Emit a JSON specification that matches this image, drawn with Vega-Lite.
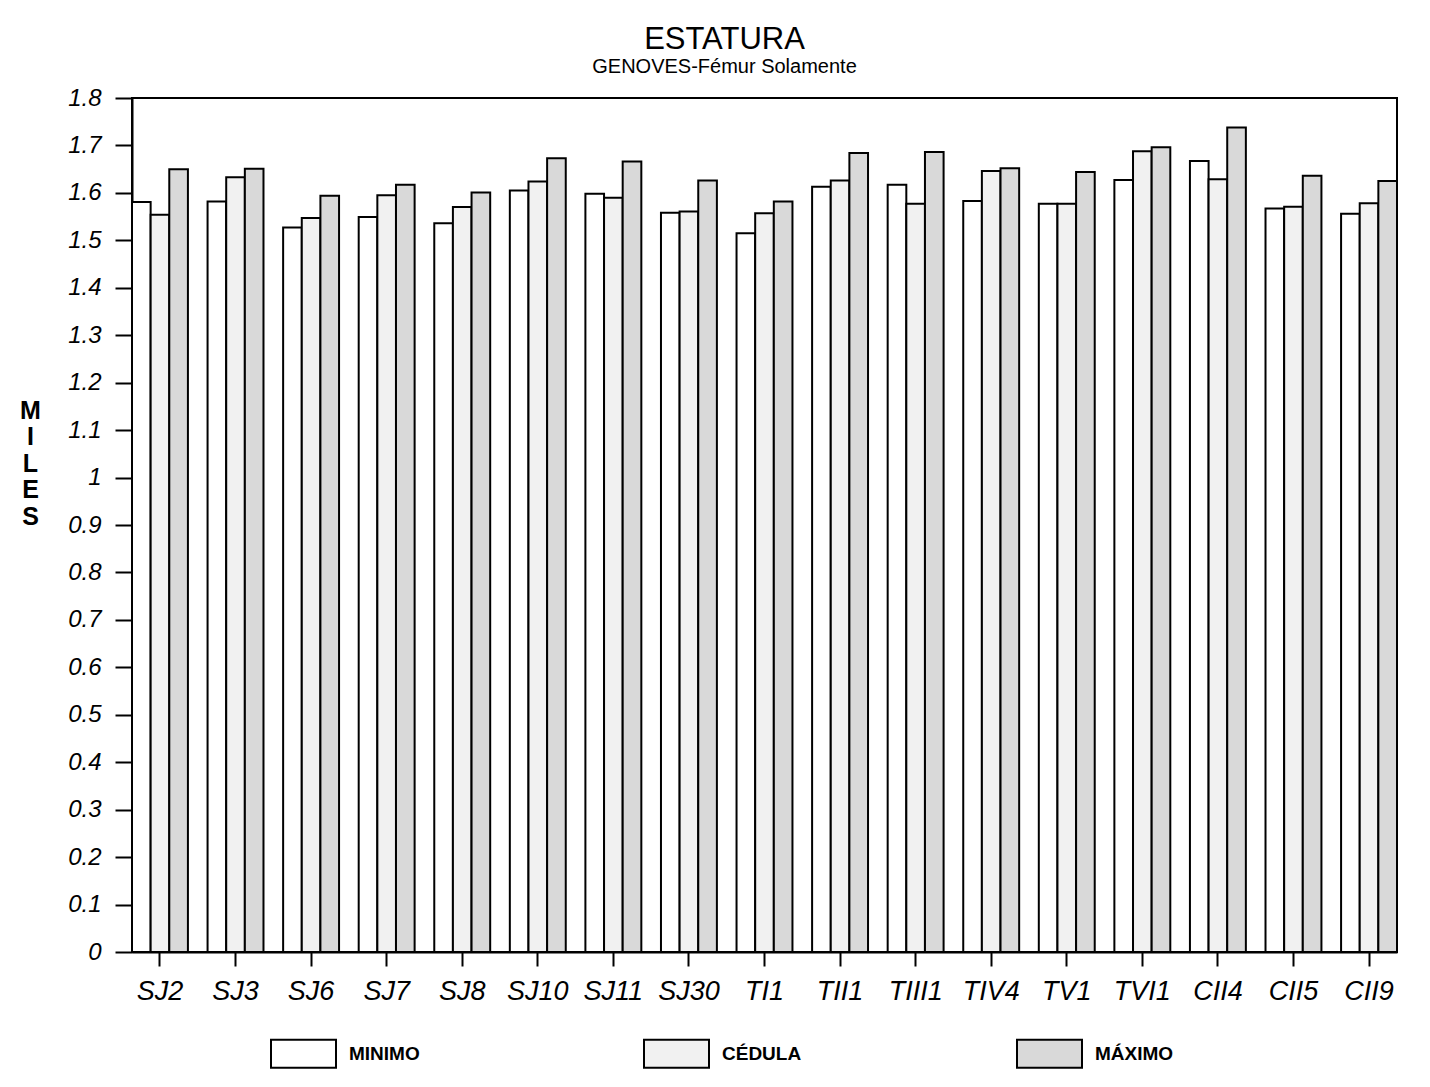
{
  "$schema": "https://vega.github.io/schema/vega-lite/v6.json",
  "autosize": "none",
  "padding": {"left": 132, "top": 98, "right": 33, "bottom": 135},
  "width": 1265,
  "height": 854,
  "background": "white",
  "title": {
    "text": "ESTATURA",
    "subtitle": "GENOVES-Fémur Solamente",
    "font": "Liberation Sans",
    "fontSize": 31,
    "fontWeight": "normal",
    "color": "black",
    "subtitleFont": "Liberation Sans",
    "subtitleFontSize": 20,
    "subtitleColor": "black",
    "subtitlePadding": 1,
    "anchor": "middle",
    "dx": -40,
    "offset": 8
  },
  "data": {
    "values": [
      {"cat": "SJ2", "serie": "MINIMO", "valor": 1.581},
      {"cat": "SJ2", "serie": "CÉDULA", "valor": 1.554},
      {"cat": "SJ2", "serie": "MÁXIMO", "valor": 1.650},
      {"cat": "SJ3", "serie": "MINIMO", "valor": 1.582},
      {"cat": "SJ3", "serie": "CÉDULA", "valor": 1.633},
      {"cat": "SJ3", "serie": "MÁXIMO", "valor": 1.651},
      {"cat": "SJ6", "serie": "MINIMO", "valor": 1.527},
      {"cat": "SJ6", "serie": "CÉDULA", "valor": 1.547},
      {"cat": "SJ6", "serie": "MÁXIMO", "valor": 1.594},
      {"cat": "SJ7", "serie": "MINIMO", "valor": 1.549},
      {"cat": "SJ7", "serie": "CÉDULA", "valor": 1.595},
      {"cat": "SJ7", "serie": "MÁXIMO", "valor": 1.617},
      {"cat": "SJ8", "serie": "MINIMO", "valor": 1.536},
      {"cat": "SJ8", "serie": "CÉDULA", "valor": 1.570},
      {"cat": "SJ8", "serie": "MÁXIMO", "valor": 1.601},
      {"cat": "SJ10", "serie": "MINIMO", "valor": 1.605},
      {"cat": "SJ10", "serie": "CÉDULA", "valor": 1.624},
      {"cat": "SJ10", "serie": "MÁXIMO", "valor": 1.673},
      {"cat": "SJ11", "serie": "MINIMO", "valor": 1.598},
      {"cat": "SJ11", "serie": "CÉDULA", "valor": 1.590},
      {"cat": "SJ11", "serie": "MÁXIMO", "valor": 1.666},
      {"cat": "SJ30", "serie": "MINIMO", "valor": 1.558},
      {"cat": "SJ30", "serie": "CÉDULA", "valor": 1.561},
      {"cat": "SJ30", "serie": "MÁXIMO", "valor": 1.626},
      {"cat": "TI1", "serie": "MINIMO", "valor": 1.515},
      {"cat": "TI1", "serie": "CÉDULA", "valor": 1.557},
      {"cat": "TI1", "serie": "MÁXIMO", "valor": 1.582},
      {"cat": "TII1", "serie": "MINIMO", "valor": 1.613},
      {"cat": "TII1", "serie": "CÉDULA", "valor": 1.626},
      {"cat": "TII1", "serie": "MÁXIMO", "valor": 1.684},
      {"cat": "TIII1", "serie": "MINIMO", "valor": 1.617},
      {"cat": "TIII1", "serie": "CÉDULA", "valor": 1.577},
      {"cat": "TIII1", "serie": "MÁXIMO", "valor": 1.686},
      {"cat": "TIV4", "serie": "MINIMO", "valor": 1.583},
      {"cat": "TIV4", "serie": "CÉDULA", "valor": 1.646},
      {"cat": "TIV4", "serie": "MÁXIMO", "valor": 1.652},
      {"cat": "TV1", "serie": "MINIMO", "valor": 1.577},
      {"cat": "TV1", "serie": "CÉDULA", "valor": 1.577},
      {"cat": "TV1", "serie": "MÁXIMO", "valor": 1.644},
      {"cat": "TVI1", "serie": "MINIMO", "valor": 1.627},
      {"cat": "TVI1", "serie": "CÉDULA", "valor": 1.688},
      {"cat": "TVI1", "serie": "MÁXIMO", "valor": 1.696},
      {"cat": "CII4", "serie": "MINIMO", "valor": 1.667},
      {"cat": "CII4", "serie": "CÉDULA", "valor": 1.629},
      {"cat": "CII4", "serie": "MÁXIMO", "valor": 1.738},
      {"cat": "CII5", "serie": "MINIMO", "valor": 1.567},
      {"cat": "CII5", "serie": "CÉDULA", "valor": 1.571},
      {"cat": "CII5", "serie": "MÁXIMO", "valor": 1.636},
      {"cat": "CII9", "serie": "MINIMO", "valor": 1.556},
      {"cat": "CII9", "serie": "CÉDULA", "valor": 1.578},
      {"cat": "CII9", "serie": "MÁXIMO", "valor": 1.625}
    ]
  },
  "mark": {"type": "bar", "stroke": "black", "strokeWidth": 2},
  "encoding": {
    "x": {
      "field": "cat",
      "type": "nominal",
      "sort": null,
      "scale": {"paddingInner": 0.26, "paddingOuter": 0},
      "axis": {
        "title": null,
        "labelAngle": 0,
        "labelFont": "Liberation Sans",
        "labelFontStyle": "italic",
        "labelFontSize": 27,
        "labelColor": "black",
        "labelPadding": 12,
        "tickSize": 14,
        "tickWidth": 2,
        "tickColor": "black",
        "domainColor": "black",
        "domainWidth": 2
      }
    },
    "xOffset": {
      "field": "serie",
      "type": "nominal",
      "sort": ["MINIMO", "CÉDULA", "MÁXIMO"],
      "scale": {"paddingInner": 0, "paddingOuter": 0}
    },
    "y": {
      "field": "valor",
      "type": "quantitative",
      "scale": {"domain": [0, 1.8], "nice": false, "zero": true},
      "axis": {
        "values": [0, 0.1, 0.2, 0.3, 0.4, 0.5, 0.6, 0.7, 0.8, 0.9, 1, 1.1, 1.2, 1.3, 1.4, 1.5, 1.6, 1.7, 1.8],
        "format": ".1~f",
        "grid": false,
        "labelFont": "Liberation Sans",
        "labelFontStyle": "italic",
        "labelFontSize": 24,
        "labelColor": "black",
        "labelPadding": 14,
        "tickSize": 17,
        "tickWidth": 2,
        "tickColor": "black",
        "domainColor": "black",
        "domainWidth": 2,
        "title": ["M", "I", "L", "E", "S"],
        "titleAngle": 0,
        "titleFont": "Liberation Sans",
        "titleFontSize": 25,
        "titleFontWeight": "bold",
        "titleColor": "black",
        "titleLineHeight": 26.5,
        "titleAlign": "center",
        "titleBaseline": "top",
        "titleX": -102,
        "titleY": 300
      }
    },
    "fill": {
      "field": "serie",
      "type": "nominal",
      "scale": {
        "domain": ["MINIMO", "CÉDULA", "MÁXIMO"],
        "range": ["#ffffff", "#f1f1f1", "#d9d9d9"]
      },
      "legend": {
        "orient": "none",
        "legendX": 138,
        "legendY": 922,
        "direction": "horizontal",
        "columns": 3,
        "title": null,
        "padding": 0,
        "symbolType": "M-1,-0.43H1V0.43H-1Z",
        "symbolSize": 4225,
        "symbolStrokeColor": "black",
        "symbolStrokeWidth": 2,
        "symbolOpacity": 1,
        "labelFont": "Liberation Sans",
        "labelFontWeight": "bold",
        "labelFontSize": 19,
        "labelColor": "black",
        "labelOffset": 12,
        "columnPadding": 211,
        "gridAlign": "all"
      }
    }
  },
  "config": {
    "view": {"stroke": "black", "strokeWidth": 2},
    "axis": {"grid": false}
  }
}
